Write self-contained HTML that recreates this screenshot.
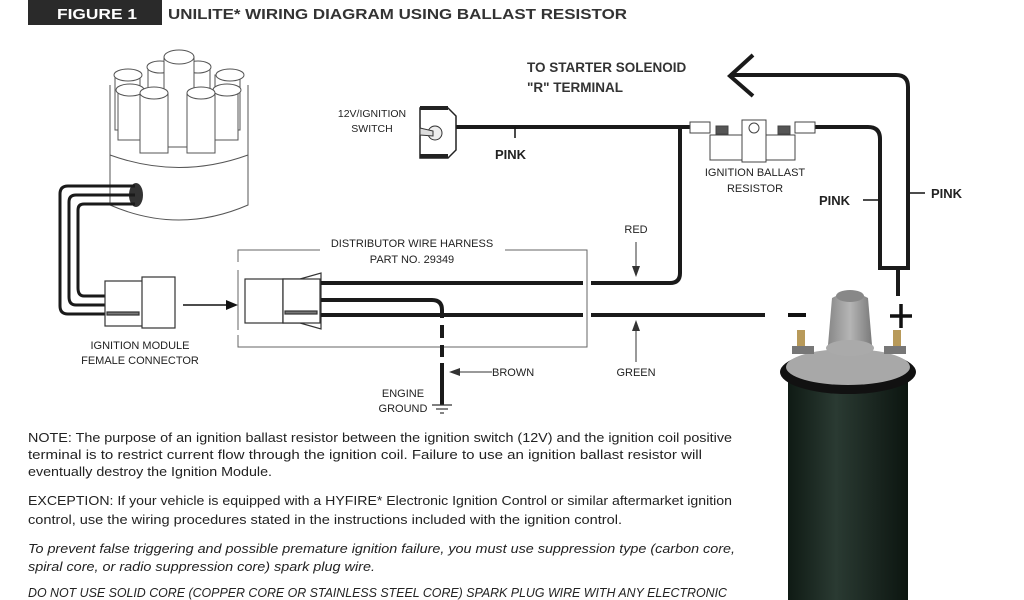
<!DOCTYPE html>
<html><head><meta charset="utf-8"><style>
html,body{margin:0;padding:0;background:#fff;}
svg{display:block;}
text{font-family:"Liberation Sans Narrow","Liberation Sans",sans-serif;fill:#222;}
</style></head><body>
<svg width="1024" height="600" viewBox="0 0 1024 600" xmlns="http://www.w3.org/2000/svg">
<rect x="0" y="0" width="1024" height="600" fill="#fff"/>
<!-- title -->
<rect x="28" y="0" width="134" height="25" fill="#2a2a2a"/>
<text x="57" y="19" font-size="15" font-weight="bold" style="fill:#fff" textLength="80" lengthAdjust="spacingAndGlyphs">FIGURE 1</text>
<text x="168" y="19" font-size="15" font-weight="bold" style="fill:#333" textLength="459" lengthAdjust="spacingAndGlyphs">UNILITE*  WIRING DIAGRAM USING BALLAST RESISTOR</text>

<!-- distributor cap -->
<g stroke="#555" stroke-width="1" fill="#fff">
<path d="M110 85 L110 205 Q179 235 248 205 L248 85 Z" stroke="none"/>
<path d="M110 150 L110 205 Q179 235 248 205 L248 150" fill="none"/>
<line x1="110" y1="85" x2="110" y2="152"/><line x1="248" y1="85" x2="248" y2="152"/>
<path d="M110 155 Q179 180 248 155" fill="none"/>
<path d="M115 75 v55 h25 v-55 z"/><path d="M215 75 v55 h25 v-55z"/>
<ellipse cx="128" cy="75" rx="14" ry="6"/><ellipse cx="230" cy="75" rx="14" ry="6"/>
<path d="M148 67 v70 h25 v-70z"/><ellipse cx="160" cy="67" rx="13" ry="6"/>
<path d="M185 67 v70 h25 v-70z"/><ellipse cx="198" cy="67" rx="13" ry="6"/>
<path d="M164 57 v90 h30 v-90z"/><ellipse cx="179" cy="57" rx="15" ry="7"/>
<path d="M118 90 v50 h25 v-50z"/><path d="M213 90 v50 h25 v-50z"/>
<ellipse cx="130" cy="90" rx="14" ry="6"/><ellipse cx="227" cy="90" rx="14" ry="6"/>
<path d="M140 93 v60 h28 v-60z"/><ellipse cx="154" cy="93" rx="14" ry="6"/>
<path d="M187 93 v60 h28 v-60z"/><ellipse cx="201" cy="93" rx="14" ry="6"/>
</g>
<ellipse cx="136" cy="195" rx="7" ry="12" fill="#333"/>
<!-- bundle -->
<g fill="none" stroke="#1a1a1a" stroke-width="3">
<path d="M135 186 H68 Q60 186 60 194 V306 Q60 314 68 314 H105"/>
<path d="M135 195 H76 Q69 195 69 202 V297 Q69 305 76 305 H105"/>
<path d="M135 204 H84 Q78 204 78 210 V288 Q78 296 84 296 H105"/>
</g>
<!-- module connector -->
<g stroke="#333" stroke-width="1.2" fill="#fff">
<rect x="105" y="281" width="38" height="45"/>
<rect x="142" y="277" width="33" height="51"/>
<rect x="107" y="312" width="32" height="3" fill="#777"/>
</g>
<text x="140" y="349" font-size="11" text-anchor="middle">IGNITION MODULE</text>
<text x="140" y="364" font-size="11" text-anchor="middle">FEMALE CONNECTOR</text>
<line x1="183" y1="305" x2="228" y2="305" stroke="#111" stroke-width="1.5"/>
<path d="M238 305 L226 300 L226 310 Z" fill="#111"/>
<!-- harness box -->
<g stroke="#666" stroke-width="1" fill="none">
<path d="M238 262 V250 H320"/><path d="M505 250 H587 V347 H238 V335"/>
<line x1="238" y1="270" x2="238" y2="330"/>
</g>
<text x="412" y="247" font-size="11" text-anchor="middle">DISTRIBUTOR WIRE HARNESS</text>
<text x="412" y="263" font-size="11" text-anchor="middle">PART NO. 29349</text>
<g stroke="#333" stroke-width="1.2" fill="#fff">
<rect x="245" y="279" width="38" height="44"/>
<path d="M283 279 H300 L321 273 V329 L300 323 H283 Z"/>
<rect x="283" y="279" width="37" height="44"/>
<rect x="285" y="311" width="32" height="3" fill="#777"/>
</g>
<!-- wires -->
<g fill="none" stroke="#1a1a1a" stroke-width="4">
<path d="M321 283 H583"/><path d="M591 283 H670 Q680 283 680 273 V127"/>
<path d="M321 315 H583"/><path d="M591 315 H765"/>
<path d="M321 300 H432 Q442 300 442 310 V318"/>
<path d="M442 325 V338 M442 345 V357 M442 363 V405"/>
<path d="M455 127 H690"/>
<path d="M815 127 H868 Q880 127 880 139 V268 H908 V87 Q908 75 896 75 H730"/>
<path d="M898 268 V296"/>
</g>
<path d="M753 55 L730 76 L753 96" fill="none" stroke="#1a1a1a" stroke-width="4"/>
<!-- ground -->
<g stroke="#333" stroke-width="1.2"><line x1="432" y1="405" x2="452" y2="405"/><line x1="436" y1="409" x2="448" y2="409"/><line x1="440" y1="413" x2="444" y2="413"/></g>
<text x="403" y="397" font-size="11" text-anchor="middle">ENGINE</text>
<text x="403" y="412" font-size="11" text-anchor="middle">GROUND</text>
<line x1="458" y1="372" x2="492" y2="372" stroke="#333" stroke-width="1"/>
<path d="M449 372 L460 368 L460 376 Z" fill="#333"/>
<text x="492" y="376" font-size="11">BROWN</text>
<!-- switch -->
<path d="M420 108 H448 L456 116 V150 L448 158 H420 Z" fill="#fff" stroke="#222" stroke-width="1.5"/>
<rect x="420" y="106" width="28" height="4" fill="#222"/><rect x="420" y="154" width="28" height="4" fill="#222"/>
<circle cx="435" cy="133" r="7" fill="#eee" stroke="#333"/>
<path d="M420 128 L433 131 L433 136 L420 135Z" fill="#ddd" stroke="#333"/>
<text x="372" y="117" font-size="10.5" text-anchor="middle">12V/IGNITION</text>
<text x="372" y="132" font-size="10.5" text-anchor="middle">SWITCH</text>
<line x1="515" y1="127" x2="515" y2="138" stroke="#111" stroke-width="1.5"/>
<text x="495" y="159" font-size="13" font-weight="bold" style="font-family:'Liberation Sans',sans-serif">PINK</text>
<!-- resistor -->
<g stroke="#444" stroke-width="1" fill="#fff">
<path d="M690 122 H710 V133 H690 Z"/>
<rect x="710" y="135" width="85" height="25"/>
<rect x="742" y="120" width="24" height="42"/>
<circle cx="754" cy="128" r="5"/>
<rect x="795" y="122" width="20" height="11"/>
<rect x="716" y="126" width="12" height="8" fill="#555"/>
<rect x="778" y="126" width="12" height="8" fill="#555"/>
</g>
<text x="755" y="176" font-size="11" text-anchor="middle">IGNITION BALLAST</text>
<text x="755" y="192" font-size="11" text-anchor="middle">RESISTOR</text>
<text x="527" y="72" font-size="13.5" font-weight="bold" style="font-family:'Liberation Sans',sans-serif;fill:#333">TO STARTER SOLENOID</text>
<text x="527" y="92" font-size="13.5" font-weight="bold" style="font-family:'Liberation Sans',sans-serif;fill:#333">"R" TERMINAL</text>
<text x="819" y="205" font-size="13" font-weight="bold" style="font-family:'Liberation Sans',sans-serif">PINK</text>
<line x1="863" y1="200" x2="878" y2="200" stroke="#111" stroke-width="1.5"/>
<line x1="910" y1="193" x2="925" y2="193" stroke="#111" stroke-width="1.5"/>
<text x="931" y="198" font-size="13" font-weight="bold" style="font-family:'Liberation Sans',sans-serif">PINK</text>
<!-- red/green -->
<text x="636" y="233" font-size="11" text-anchor="middle">RED</text>
<line x1="636" y1="242" x2="636" y2="268" stroke="#333"/><path d="M636 277 L632 266 L640 266Z" fill="#333"/>
<text x="636" y="376" font-size="11" text-anchor="middle">GREEN</text>
<line x1="636" y1="330" x2="636" y2="362" stroke="#333"/><path d="M636 320 L632 331 L640 331Z" fill="#333"/>
<!-- signs -->
<line x1="788" y1="315" x2="806" y2="315" stroke="#111" stroke-width="4"/>
<line x1="890" y1="316" x2="912" y2="316" stroke="#111" stroke-width="3.5"/>
<line x1="901" y1="304" x2="901" y2="328" stroke="#111" stroke-width="3.5"/>
<!-- coil -->
<defs>
<linearGradient id="cb" x1="0" x2="1"><stop offset="0" stop-color="#0f1a14"/><stop offset="0.4" stop-color="#2a3a32"/><stop offset="1" stop-color="#0c1510"/></linearGradient>
<linearGradient id="gt" x1="0" x2="1"><stop offset="0" stop-color="#888"/><stop offset="0.5" stop-color="#b5b5b5"/><stop offset="1" stop-color="#7a7a7a"/></linearGradient>
</defs>
<rect x="788" y="372" width="120" height="228" fill="url(#cb)"/>
<ellipse cx="848" cy="372" rx="68" ry="22" fill="#111"/>
<ellipse cx="848" cy="367" rx="62" ry="18" fill="#a8a8a8"/>
<path d="M828 345 L832 298 Q850 288 868 298 L872 345 Z" fill="url(#gt)"/>
<ellipse cx="850" cy="296" rx="14" ry="6" fill="#888"/>
<ellipse cx="850" cy="348" rx="24" ry="8" fill="#aaa"/>
<rect x="797" y="330" width="8" height="18" fill="#b89a5a"/>
<rect x="893" y="330" width="8" height="18" fill="#b89a5a"/>
<rect x="792" y="346" width="22" height="8" fill="#777"/>
<rect x="884" y="346" width="22" height="8" fill="#777"/>
<!-- notes -->
<g font-size="13">
<text x="28" y="442" textLength="704" lengthAdjust="spacingAndGlyphs">NOTE: The purpose of an ignition ballast resistor between the ignition switch (12V) and the ignition coil positive</text>
<text x="28" y="459" textLength="674" lengthAdjust="spacingAndGlyphs">terminal is to restrict current flow through the ignition coil. Failure to use an ignition ballast resistor will</text>
<text x="28" y="476" textLength="244" lengthAdjust="spacingAndGlyphs">eventually destroy the Ignition Module.</text>
<text x="28" y="505" textLength="704" lengthAdjust="spacingAndGlyphs">EXCEPTION: If your vehicle is equipped with a HYFIRE* Electronic Ignition Control or similar aftermarket ignition</text>
<text x="28" y="524" textLength="594" lengthAdjust="spacingAndGlyphs">control, use the wiring procedures stated in the instructions included with the ignition control.</text>
<text x="28" y="553" font-style="italic" textLength="707" lengthAdjust="spacingAndGlyphs">To prevent false triggering and possible premature ignition failure, you must use suppression type (carbon core,</text>
<text x="28" y="571" font-style="italic" textLength="347" lengthAdjust="spacingAndGlyphs">spiral core, or radio suppression core) spark plug wire.</text>
<text x="28" y="597" font-style="italic" textLength="699" lengthAdjust="spacingAndGlyphs">DO NOT USE SOLID CORE (COPPER CORE OR STAINLESS STEEL CORE) SPARK PLUG WIRE WITH ANY ELECTRONIC</text>
</g>
</svg>
</body></html>
